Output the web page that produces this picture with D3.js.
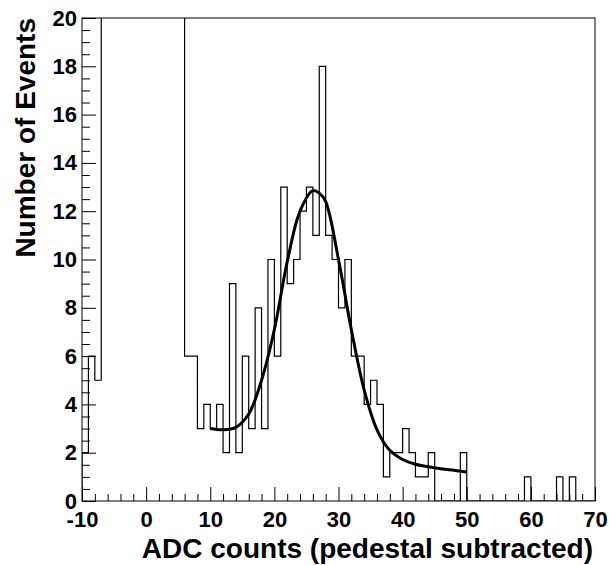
<!DOCTYPE html>
<html>
<head>
<meta charset="utf-8">
<title>ADC counts histogram</title>
<script src="https://d3js.org/d3.v7.min.js"></script>
<style>
  body { margin: 0; padding: 0; background: #fff; font-family: "Liberation Sans", Arial, Helvetica, sans-serif; }
  .axis text { font-size: 22px; font-weight: bold; fill: #000; font-family: "Liberation Sans", Arial, sans-serif; }
  .axis line { stroke: #000; stroke-width: 1; }
  .axis .domain { display: none; }
  .title { font-size: 28px; font-weight: bold; fill: #000; }
</style>
</head>
<body>
<div id="chart"></div>
<script>
// histogram: 1-unit bins starting at -10 (bins from -7 to 5 run off the top of the frame)
const binStart = -10;
const binWidth = 1;
const counts = [
  2, 6, 5, 30, 30, 30, 30, 30, 30, 30,        // -10 .. -1
  30, 30, 30, 30, 30, 30, 6, 6, 3, 4,          //   0 .. 9
  3, 4, 2, 9, 2, 6, 3, 8, 3, 10,               //  10 .. 19
  6, 13, 9, 10, 12, 13, 11, 18, 11, 10,        //  20 .. 29
  8, 10, 6, 6, 4, 5, 4, 1, 2, 2,               //  30 .. 39
  3, 2, 1, 1, 2, 0, 0, 0, 0, 2,                //  40 .. 49
  0, 0, 0, 0, 0, 0, 0, 0, 0, 1,                //  50 .. 59
  0, 0, 0, 0, 1, 0, 1, 0, 0, 0                 //  60 .. 69
];

// fitted curve
const fitX = [10, 12, 14, 16, 18, 20, 22, 24, 26, 27, 28, 30, 32, 34, 36, 38, 40, 42, 45, 48, 50];
const fitY = [3.0, 2.95, 3.05, 3.6, 5.0, 7.1, 9.9, 12.0, 12.85, 12.75, 12.4, 10.0, 7.1, 4.6, 2.95, 2.1, 1.72, 1.52, 1.38, 1.27, 1.2];

const xMajor = [-10, 0, 10, 20, 30, 40, 50, 60, 70];
const yMajor = [0, 2, 4, 6, 8, 10, 12, 14, 16, 18, 20];

const W = 610, H = 565;
const frame = { left: 82, right: 595, top: 18, bottom: 501 };

const svg = d3.select("#chart").append("svg")
    .attr("width", W)
    .attr("height", H);

const x = d3.scaleLinear().domain([-10, 70]).range([frame.left, frame.right]);
const y = d3.scaleLinear().domain([0, 20]).range([frame.bottom, frame.top]);

svg.append("clipPath").attr("id", "frameClip")
  .append("rect")
    .attr("x", frame.left)
    .attr("y", frame.top)
    .attr("width", frame.right - frame.left)
    .attr("height", frame.bottom - frame.top);

// histogram outline
const pts = [[binStart, 0]];
counts.forEach((c, i) => {
  const x0 = binStart + i * binWidth;
  pts.push([x0, c], [x0 + binWidth, c]);
});
pts.push([binStart + counts.length * binWidth, 0]);

svg.append("path")
    .attr("clip-path", "url(#frameClip)")
    .attr("d", d3.line().x(d => x(d[0])).y(d => y(d[1]))(pts))
    .attr("fill", "none")
    .attr("stroke", "#000")
    .attr("stroke-width", 1.2);

// fit
const fitPts = fitX.map((v, i) => [v, fitY[i]]);
svg.append("path")
    .attr("d", d3.line().x(d => x(d[0])).y(d => y(d[1])).curve(d3.curveCatmullRom.alpha(0.5))(fitPts))
    .attr("fill", "none")
    .attr("stroke", "#000")
    .attr("stroke-width", 3);

// x axis: major + minor ticks pointing inward
svg.append("g")
    .attr("class", "axis")
    .attr("transform", `translate(0,${frame.bottom})`)
    .call(d3.axisBottom(x).tickValues(d3.range(-10, 71, 2).filter(v => v % 10 !== 0)).tickSize(-7).tickFormat(""));
svg.append("g")
    .attr("class", "axis")
    .attr("transform", `translate(0,${frame.bottom})`)
    .call(d3.axisBottom(x).tickValues(xMajor).tickSize(-14).tickPadding(10).tickFormat(d3.format("d")))
    .selectAll("text").text(d => d < 0 ? "-" + Math.abs(d) : d);

// y axis
svg.append("g")
    .attr("class", "axis")
    .attr("transform", `translate(${frame.left},0)`)
    .call(d3.axisLeft(y).tickValues(d3.range(0, 20.01, 0.5).filter(v => v % 2 !== 0)).tickSize(-8).tickFormat(""));
svg.append("g")
    .attr("class", "axis")
    .attr("transform", `translate(${frame.left},0)`)
    .call(d3.axisLeft(y).tickValues(yMajor).tickSize(-14).tickPadding(5).tickFormat(d3.format("d")));

// frame
svg.append("rect")
    .attr("x", frame.left)
    .attr("y", frame.top)
    .attr("width", frame.right - frame.left)
    .attr("height", frame.bottom - frame.top)
    .attr("fill", "none")
    .attr("stroke", "#000")
    .attr("stroke-width", 1);

// axis titles
svg.append("text")
    .attr("class", "title")
    .attr("x", frame.right - 2)
    .attr("y", 558)
    .attr("text-anchor", "end")
    .text("ADC counts (pedestal subtracted)");

svg.append("text")
    .attr("class", "title")
    .attr("transform", `translate(35,${frame.top}) rotate(-90)`)
    .attr("text-anchor", "end")
    .text("Number of Events");
</script>
</body>
</html>
